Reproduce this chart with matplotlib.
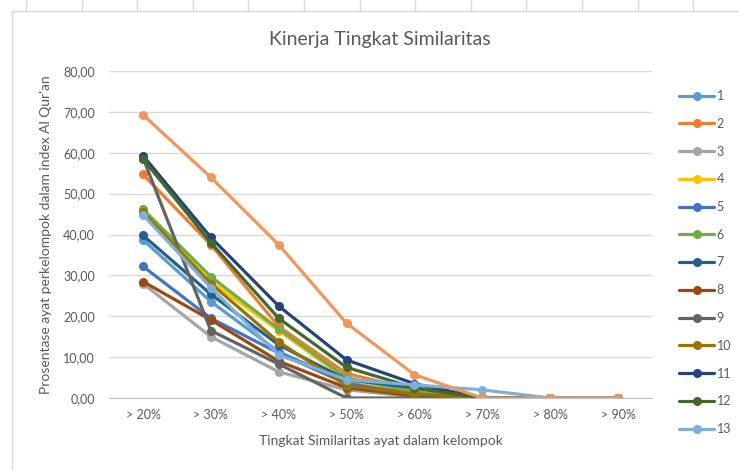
import matplotlib
matplotlib.use("Agg")
import matplotlib.pyplot as plt
from matplotlib.lines import Line2D
import numpy as np

plt.rcParams['font.family'] = ['Lato', 'DejaVu Sans']

categories = ["> 20%", "> 30%", "> 40%", "> 50%", "> 60%", "> 70%", "> 80%", "> 90%"]
series_names = [str(i) for i in range(1, 15)]

s1 = [38.7, 23.6, 11.3, 4.0, 2.0, 0.0, 0.0, 0.0]
s2 = [54.7, 37.5, 17.5, 6.0, 2.0, 0.0, 0.0, 0.0]
s3 = [28.0, 15.0, 6.4, 2.0, 0.3, 0.0, 0.0, 0.0]
s4 = [46.0, 28.5, 16.5, 4.5, 1.5, 0.0, 0.0, 0.0]
s5 = [32.2, 19.5, 11.0, 3.5, 1.0, 0.0, 0.0, 0.0]
s6 = [46.2, 29.7, 16.9, 5.0, 1.5, 0.0, 0.0, 0.0]
s7 = [39.8, 25.4, 13.0, 4.5, 2.5, 0.0, 0.0, 0.0]
s8 = [28.5, 19.1, 9.0, 2.5, 0.5, 0.0, 0.0, 0.0]
s9 = [58.8, 16.5, 8.3, 0.0, 0.0, 0.0, 0.0, 0.0]
s10 = [45.5, 28.0, 13.7, 3.0, 1.0, 0.0, 0.0, 0.0]
s11 = [59.3, 39.3, 22.5, 9.3, 3.5, 0.0, 0.0, 0.0]
s12 = [58.5, 38.0, 19.5, 7.5, 2.5, 0.0, 0.0, 0.0]
s13 = [44.8, 27.0, 10.5, 4.5, 3.2, 2.0, 0.0, 0.0]
s14 = [69.3, 54.0, 37.5, 18.3, 5.7, 0.0, 0.0, 0.0]

all_series = [s1, s2, s3, s4, s5, s6, s7, s8, s9, s10, s11, s12, s13, s14]
colors = ["#5B9BD5", "#ED7D31", "#A5A5A5", "#FFC000", "#4472C4", "#70AD47",
          "#255E91", "#9E480E", "#636363", "#997300", "#264478", "#43682B",
          "#7CAFDD", "#F1975A"]

fig = plt.figure(figsize=(7.39, 4.70), dpi=100)
ax = fig.add_axes([109/739, 1-398/470, (652-109)/739, (398-71)/470])

x = np.arange(len(categories))
handles = []
for name, vals, c in zip(series_names, all_series, colors):
    h, = ax.plot(x, vals, color=c, lw=2.3, marker='o', markersize=5.5,
                 solid_capstyle='round', label=name)
    handles.append(h)

ax.set_xlim(-0.5, len(categories) - 0.5)
ax.set_ylim(0, 80)
ax.set_yticks(np.arange(0, 81, 10))
ax.set_yticklabels([f"{v:.2f}".replace('.', ',') for v in np.arange(0, 81, 10)])
ax.set_xticks(x)
ax.set_xticklabels(categories)
ax.grid(axis='y', color='#D9D9D9', lw=1)
ax.set_axisbelow(True)
for sp in ['top', 'right', 'left']:
    ax.spines[sp].set_visible(False)
ax.spines['bottom'].set_color('#BFBFBF')
ax.tick_params(axis='both', length=0, colors='#595959', labelsize=9)
ax.tick_params(axis='y', pad=10)
ax.tick_params(axis='x', pad=8)

ax.set_xlabel("Tingkat Similaritas ayat dalam kelompok", fontsize=10, color='#595959', labelpad=10)
ax.set_ylabel("Prosentase ayat perkelompok dalam index Al Qur'an", fontsize=10, color='#595959', labelpad=8)
fig.text(380/739, 1-40/470, "Kinerja Tingkat Similaritas", ha='center', va='center',
         fontsize=14, color='#595959')

leg = fig.legend(handles[:13], series_names[:13], loc='upper left',
                 bbox_to_anchor=(674/739, 1-85/470), frameon=False, fontsize=9,
                 labelspacing=1.26, handlelength=2.8, handletextpad=0.2, borderaxespad=0)
for t in leg.get_texts():
    t.set_color('#595959')

# spreadsheet frame remnants
fig.add_artist(Line2D([12/739, 12/739], [0, 1-11/470], color='#D9D9D9', lw=1))
fig.add_artist(Line2D([12/739, 1], [1-11/470, 1-11/470], color='#D9D9D9', lw=1))
for tx in np.arange(26, 739, 55.6):
    fig.add_artist(Line2D([tx/739, tx/739], [1-11/470, 1], color='#D9D9D9', lw=1))

fig.savefig("out.png", dpi=100)
